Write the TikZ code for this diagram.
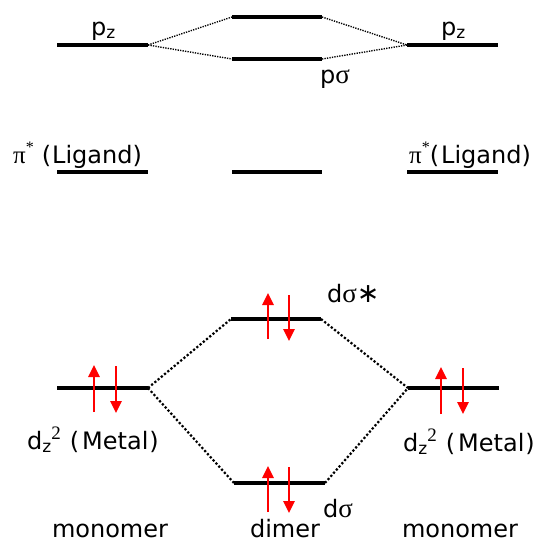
\documentclass[tikz,border=0pt]{standalone}
\usepackage{fontspec}
\setmainfont{DejaVu Sans}
\newfontfamily\grk{Liberation Serif}
\usetikzlibrary{arrows.meta}
\newcommand\mysub[1]{\raisebox{-0.3ex}{\fontsize{17}{17}\selectfont #1}}
\newcommand\mysup[1]{\raisebox{0.8ex}{\fontsize{16}{16}\selectfont\grk #1}}
\newcommand\mysupb[1]{\raisebox{0.75ex}{\fontsize{19}{19}\selectfont\grk #1}}
\newcommand\gsig{{\grk\fontsize{27}{27}\selectfont σ}}
\newcommand\gpi{{\grk\fontsize{25}{25}\selectfont π}}
\begin{document}
\begin{tikzpicture}[x=1pt,y=-1pt,
  level/.style={line width=4.2pt},
  tie/.style={line width=2.2pt,dash pattern=on 2.2pt off 2pt},
  tiethin/.style={line width=1.4pt,dash pattern=on 1.3pt off 1.2pt},
  spin/.style={red,line width=2.5pt,-{Triangle[length=12pt,width=11pt]}},
  lab/.style={inner sep=0pt,font=\fontsize{24}{28}\selectfont}]
\useasboundingbox (0,0) rectangle (550,544);
% level end points
\coordinate (pzLa) at (57,45);  \coordinate (pzLb) at (148,45);
\coordinate (pzRa) at (407,45); \coordinate (pzRb) at (498,45);
\coordinate (pUa) at (232,17);  \coordinate (pUb) at (322,17);
\coordinate (pSa) at (232,59);  \coordinate (pSb) at (322,59);
\coordinate (piLa) at (57,172); \coordinate (piLb) at (148,172);
\coordinate (piCa) at (232,172);\coordinate (piCb) at (322,172);
\coordinate (piRa) at (407,172);\coordinate (piRb) at (498,172);
\coordinate (dLa) at (57,388);  \coordinate (dLb) at (148,388);
\coordinate (dRa) at (408,388); \coordinate (dRb) at (499,388);
\coordinate (dSSa) at (231,319);\coordinate (dSSb) at (321,319);
\coordinate (dSa) at (234,483); \coordinate (dSb) at (325,483);
% levels
\foreach \a/\b in {pzLa/pzLb,pzRa/pzRb,pUa/pUb,pSa/pSb,piLa/piLb,piCa/piCb,piRa/piRb,dLa/dLb,dRa/dRb,dSSa/dSSb,dSa/dSb}
  \draw[level] (\a) -- (\b);
% correlation lines
\draw[tiethin] (pzLb) -- (pUa);
\draw[tiethin] (pzLb) -- (pSa);
\draw[tiethin] (pUb) -- (pzRa);
\draw[tiethin] (pSb) -- (pzRa);
\draw[tie] (dLb) -- (dSSa);
\draw[tie] (dLb) -- (dSa);
\draw[tie] (dSSb) -- (dRa);
\draw[tie] (dSb) -- (dRa);
% electrons
\coordinate (e1a) at (94,412);  \coordinate (e1b) at (94,365);
\coordinate (e2a) at (116,366); \coordinate (e2b) at (116,413);
\coordinate (e3a) at (268,339); \coordinate (e3b) at (268,293);
\coordinate (e4a) at (289,295); \coordinate (e4b) at (289,341);
\coordinate (e5a) at (441,414); \coordinate (e5b) at (441,367);
\coordinate (e6a) at (463,368); \coordinate (e6b) at (463,414);
\coordinate (e7a) at (268,512); \coordinate (e7b) at (268,466);
\coordinate (e8a) at (289,467); \coordinate (e8b) at (289,513);
\foreach \a/\b in {e1a/e1b,e2a/e2b,e3a/e3b,e4a/e4b,e5a/e5b,e6a/e6b,e7a/e7b,e8a/e8b}
  \draw[spin] (\a) -- (\b);
% labels
\node[lab,anchor=base west] (tpzL) at (91,35) {p\mysub{z}};
\node[lab,anchor=base west] (tpzR) at (441,35) {p\mysub{z}};
\node[lab,anchor=base west] (tps) at (320,83) {p\gsig};
\node[lab,anchor=base west] (tpiL) at (13,163) {\gpi\mysup{*}\hspace{8pt}(\hspace{1pt}Ligand)};
\node[lab,anchor=base west] (tpiR) at (409,163) {\gpi\mysup{*}(\hspace{2pt}Ligand)};
\node[lab,anchor=base west] (tdss) at (327,302) {d\gsig{\fontsize{27}{27}\selectfont ∗}};
\node[lab,anchor=base west] (tdL) at (27,449) {d\mysub{z}\mysupb{2}\hspace{9pt}(\hspace{3pt}Metal\hspace{1pt})};
\node[lab,anchor=base west] (tdR) at (403,451) {d\mysub{z}\mysupb{2}\hspace{9pt}(\hspace{3pt}Metal\hspace{1pt})};
\node[lab,anchor=base west] (tds) at (323,517) {d\gsig};
\node[lab,anchor=base] (tmL) at (110,537) {monomer};
\node[lab,anchor=base] (tdim) at (285,537) {dimer};
\node[lab,anchor=base] (tmR) at (460,537) {monomer};
\end{tikzpicture}
\end{document}
